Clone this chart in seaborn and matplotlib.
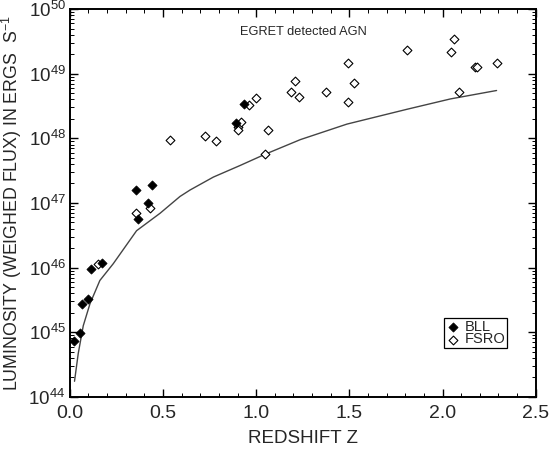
import numpy as np
import pandas as pd
import seaborn as sns
import matplotlib.pyplot as plt
from matplotlib.ticker import LogLocator, MultipleLocator, NullFormatter

# BL Lacs (filled diamonds)
bll_z = [0.023, 0.052, 0.063, 0.097, 0.111, 0.174, 0.353, 0.366, 0.421, 0.439, 0.890, 0.937]
bll_logL = [44.86, 44.99, 45.44, 45.51, 45.98, 46.07, 47.20, 46.75, 47.00, 47.28, 48.24, 48.53]

# FSRQs (open diamonds)
fsro_z = [0.152, 0.357, 0.430, 0.538, 0.726, 0.783, 0.903, 0.903, 0.916, 0.964, 1.000,
          1.045, 1.065, 1.186, 1.206, 1.231, 1.376, 1.491, 1.495, 1.523, 1.810, 2.048,
          2.062, 2.090, 2.174, 2.186, 2.290]
fsro_logL = [46.06, 46.85, 46.92, 47.97, 48.04, 47.96, 48.17, 48.13, 48.26, 48.51, 48.63,
             47.75, 48.13, 48.72, 48.89, 48.64, 48.71, 48.56, 49.16, 48.85, 49.36, 49.34,
             49.53, 48.71, 49.10, 49.10, 49.17]

# detection limit curve
lim_z = [0.025, 0.045, 0.072, 0.108, 0.161, 0.233, 0.358, 0.484, 0.591, 0.645, 0.770,
         0.914, 1.045, 1.237, 1.487, 1.810, 2.043, 2.290]
lim_logL = [44.24, 44.67, 45.10, 45.44, 45.80, 46.06, 46.57, 46.84, 47.10, 47.20, 47.40,
            47.58, 47.75, 47.98, 48.22, 48.45, 48.61, 48.74]

df_bll = pd.DataFrame({'z': bll_z, 'L': 10 ** np.array(bll_logL)})
df_fsro = pd.DataFrame({'z': fsro_z, 'L': 10 ** np.array(fsro_logL)})
df_lim = pd.DataFrame({'z': lim_z, 'L': 10 ** np.array(lim_logL)})

sns.set_style('ticks')
plt.rcParams['font.family'] = ['Liberation Sans', 'DejaVu Sans']
plt.rcParams['mathtext.default'] = 'regular'

fig = plt.figure(figsize=(5.5, 4.54), dpi=100)
ax = fig.add_axes([0.127, 0.126, 0.847, 0.854])

sns.lineplot(data=df_lim, x='z', y='L', color='#444444', linewidth=1.0, ax=ax)
sns.scatterplot(data=df_fsro, x='z', y='L', marker='D', s=20, facecolor='white',
                edgecolor='black', linewidth=0.8, label='FSRO', ax=ax, zorder=3)
sns.scatterplot(data=df_bll, x='z', y='L', marker='D', s=22, color='black',
                edgecolor='black', linewidth=0.5, label='BLL', ax=ax, zorder=4)

ax.set_yscale('log')
ax.set_xlim(0, 2.5)
ax.set_ylim(1e44, 1e50)
ax.xaxis.set_major_locator(MultipleLocator(0.5))
ax.xaxis.set_minor_locator(MultipleLocator(0.1))
ax.set_xticklabels([f'{v:.1f}' for v in ax.get_xticks()])
ax.yaxis.set_minor_locator(LogLocator(base=10, subs=np.arange(2, 10), numticks=20))
ax.yaxis.set_minor_formatter(NullFormatter())
ax.set_yticks([10.0 ** k for k in range(44, 51)])
ax.set_yticklabels([f'$10^{{{k}}}$' for k in range(44, 51)])

ax.tick_params(which='both', direction='in', top=True, right=True, color='black')
ax.tick_params(which='major', length=6, width=1, pad=3)
ax.tick_params(which='minor', length=3, width=0.7)
ax.tick_params(axis='x', which='major', labelsize=14, pad=6)
ax.tick_params(axis='y', which='major', labelsize=13.5)
for s in ax.spines.values():
    s.set_linewidth(1.4)
    s.set_color('black')

ax.set_xlabel('REDSHIFT Z', fontsize=13.5, labelpad=6)
ax.set_ylabel('LUMINOSITY (WEIGHED FLUX) IN ERGS  S$^{-1}$', fontsize=12.8, labelpad=3)

ax.text(0.914, 10 ** 49.65, 'EGRET detected AGN', fontsize=9.2, va='center', ha='left')

h, l = ax.get_legend_handles_labels()
order = [l.index('BLL'), l.index('FSRO')]
leg = ax.legend([h[i] for i in order], [l[i] for i in order],
                loc='lower left', bbox_to_anchor=(0.803, 0.126), fontsize=10.5,
                frameon=True, fancybox=False, edgecolor='black', framealpha=1,
                handletextpad=0.3, borderpad=0.1, labelspacing=-0.1,
                handlelength=1.0, borderaxespad=0)
leg.get_frame().set_linewidth(0.9)

plt.savefig('out.png', dpi=100)
plt.close()
